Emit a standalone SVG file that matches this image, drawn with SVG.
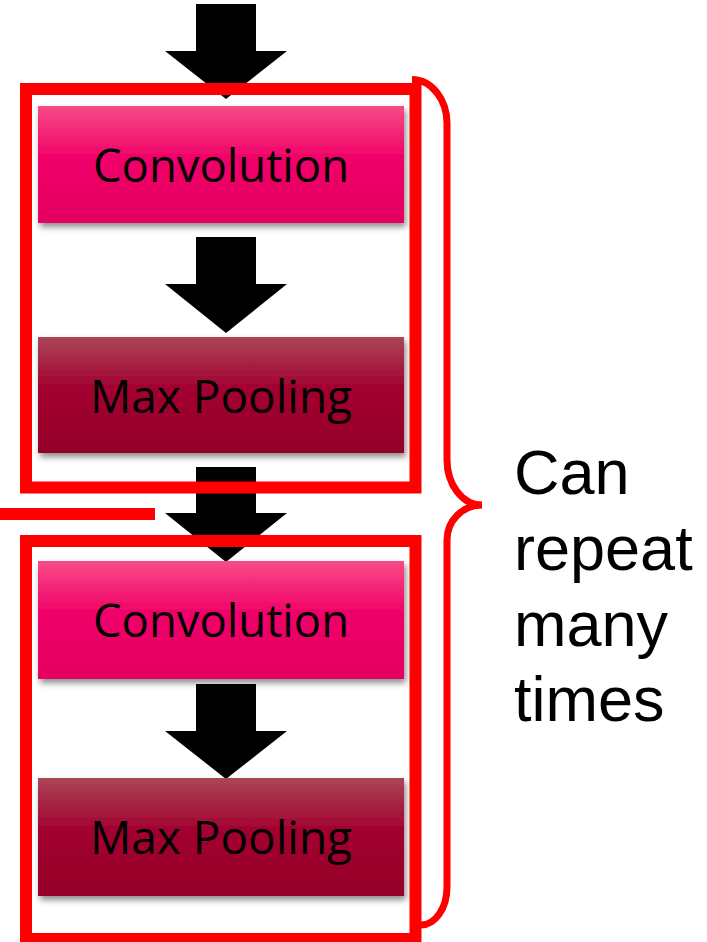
<svg xmlns="http://www.w3.org/2000/svg" width="707" height="942" viewBox="0 0 707 942">
<defs>
<linearGradient id="gConv" x1="0" y1="0" x2="0" y2="1">
<stop offset="0" stop-color="#F74C86"/>
<stop offset="0.45" stop-color="#F00068"/>
<stop offset="1" stop-color="#E50062"/>
</linearGradient>
<linearGradient id="gPool" x1="0" y1="0" x2="0" y2="1">
<stop offset="0" stop-color="#AA4656"/>
<stop offset="0.45" stop-color="#A20030"/>
<stop offset="1" stop-color="#950028"/>
</linearGradient>
<filter id="shadow" x="-10%" y="-20%" width="125%" height="150%">
<feDropShadow dx="2" dy="4" stdDeviation="3" flood-color="#000" flood-opacity="0.45"/>
</filter>
</defs>
<style>
.conv{fill:url(#gConv);filter:url(#shadow)}
.pool{fill:url(#gPool);filter:url(#shadow)}
.lbl{font-family:"Open Sans","Noto Sans",sans-serif;font-size:46px;fill:#000;text-anchor:middle}
.arrow{fill:#000}
.frame{fill:none;stroke:#FF0000;stroke-width:12}
.brace{fill:none;stroke:#FF0000;stroke-width:7}
.side{font-family:"Liberation Sans",Arial,sans-serif;font-size:63px;fill:#000}
</style>
<rect width="707" height="942" fill="#fff"/>
<g id="connectors">
<polygon class="arrow" points="196,4 256,4 256,51 287,51 226,99 165,51 196,51"/>
<polygon class="arrow" points="196,237 256,237 256,284 287,284 226,333 165,284 196,284"/>
<polygon class="arrow" points="196,467 256,467 256,513 287,513 226,562 165,513 196,513"/>
<polygon class="arrow" points="196,684 256,684 256,731 287,731 226,779 165,731 196,731"/>
</g>
<g id="conv1">
<rect class="conv" x="38" y="106" width="366" height="117"/>
<text class="lbl" x="221" y="182" textLength="256" lengthAdjust="spacingAndGlyphs">Convolution</text>
</g>
<g id="pool1">
<rect class="pool" x="38" y="337" width="366" height="116"/>
<text class="lbl" x="221" y="413" textLength="262" lengthAdjust="spacingAndGlyphs">Max Pooling</text>
</g>
<g id="conv2">
<rect class="conv" x="38" y="561" width="366" height="118"/>
<text class="lbl" x="221" y="637" textLength="256" lengthAdjust="spacingAndGlyphs">Convolution</text>
</g>
<g id="pool2">
<rect class="pool" x="38" y="778" width="366" height="118"/>
<text class="lbl" x="221" y="854" textLength="262" lengthAdjust="spacingAndGlyphs">Max Pooling</text>
</g>
<g id="block1">
<rect class="frame" x="26" y="89" width="389.5" height="398.5"/>
</g>
<g id="block2">
<rect class="frame" x="26" y="541" width="389.5" height="398"/>
</g>
<g id="divider">
<rect x="0" y="508" width="155" height="12" fill="#FF0000"/>
</g>
<g id="brace">
<path class="brace" d="M 412 79.5 A 35 44 0 0 1 447 123 L 447 460 A 35 45 0 0 0 482 505 A 35 35 0 0 0 447 540 L 447 887 A 26 38 0 0 1 421 925"/>
</g>
<g id="label">
<text class="side" x="514" y="494">Can</text>
<text class="side" x="514" y="570">repeat</text>
<text class="side" x="514" y="646">many</text>
<text class="side" x="514" y="721">times</text>
</g>
</svg>
